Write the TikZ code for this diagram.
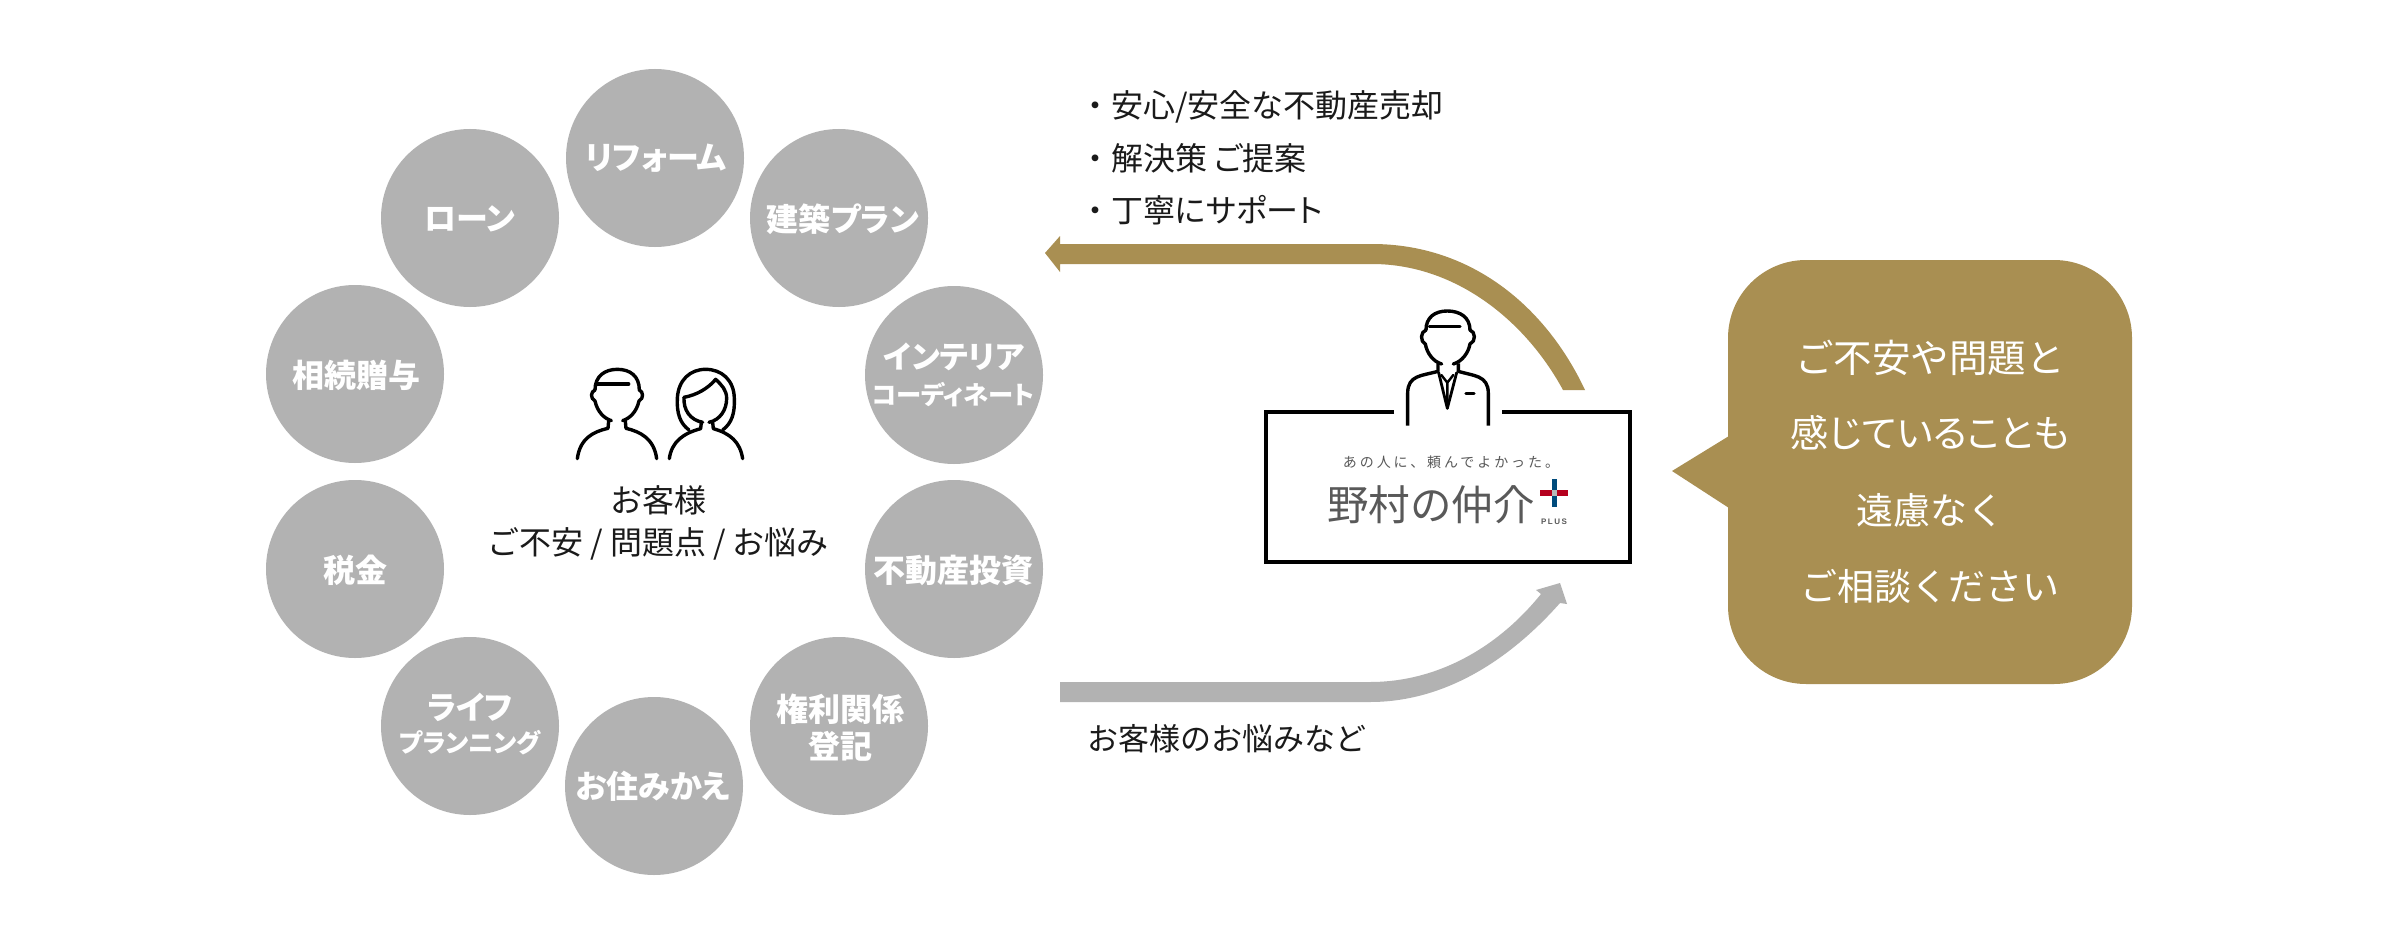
\documentclass[tikz,border=0pt]{standalone}
\usepackage{fontspec}
\setmainfont{Noto Sans CJK JP}[RawFeature=+palt]
\newfontfamily\plainjp{Noto Sans CJK JP}
\newfontfamily\logojp{Noto Sans CJK JP}[LetterSpace=21]
\newfontfamily\logolat{Liberation Sans}[LetterSpace=18]
\definecolor{goldc}{HTML}{A98F52}
\definecolor{grayc}{HTML}{B2B2B2}
\definecolor{logoc}{HTML}{595959}
\definecolor{inkc}{HTML}{1A1A1A}
\definecolor{plusblue}{HTML}{004B7C}
\definecolor{plusred}{HTML}{B5001E}
\definecolor{plusmid}{HTML}{B8B8B8}
\tikzset{
  topic/.style={circle,fill=grayc,minimum size=178pt,inner sep=0pt},
  ttxt/.style={inner sep=0pt,text=white,font=\fontsize{32}{32}\selectfont\bfseries},
  tsmall/.style={inner sep=0pt,text=white,font=\fontsize{25.3}{25.3}\selectfont\bfseries},
  lbl/.style={inner sep=0pt,text=inkc,font=\fontsize{32}{32}\selectfont,anchor=west},
  clbl/.style={inner sep=0pt,text=inkc,font=\plainjp\fontsize{32}{32}\selectfont},
  wlbl/.style={inner sep=0pt,text=white,font=\plainjp\fontsize{37}{37}\selectfont},
  icon/.style={draw=black,line width=3.4pt,line cap=round,line join=round,fill=none},
}
\begin{document}
\begin{tikzpicture}[x=1pt,y=-1pt]
\useasboundingbox[fill=white] (0,0) rectangle (2400,944);
% topic circles
\node[topic] (c1) at (655,158) {};
\node[topic] (c2) at (839,218) {};
\node[topic] (c3) at (954,375) {};
\node[topic] (c4) at (954,569) {};
\node[topic] (c5) at (839,726) {};
\node[topic] (c6) at (654,786) {};
\node[topic] (c7) at (470,726) {};
\node[topic] (c8) at (355,569) {};
\node[topic] (c9) at (355,374) {};
\node[topic] (c10) at (470,218) {};
\node[ttxt] (t1) at (656,158) {リフォーム};
\node[ttxt] (t2) at (843,219) {建築プラン};
\node[ttxt,font=\fontsize{31}{31}\selectfont\bfseries] (t3a) at (954,357) {インテリア};
\node[tsmall] (t3b) at (953,395) {コーディネート};
\node[ttxt] (t4) at (953,570) {不動産投資};
\node[ttxt] (t5a) at (840,709) {権利関係};
\node[ttxt] (t5b) at (840,746) {登記};
\node[ttxt] (t6) at (653,786) {お住みかえ};
\node[ttxt] (t7a) at (470,707) {ライフ};
\node[tsmall] (t7b) at (470,743) {プランニング};
\node[ttxt] (t8) at (355,570) {税金};
\node[ttxt] (t9) at (356,375) {相続贈与};
\node[ttxt] (t10) at (470,219) {ローン};
% customers
\begin{scope}[shift={(540,340)},x=0.3333pt,y=-0.3333pt]
\draw[icon] (165,150) .. controls (165,108) and (195,88) .. (232,88) .. controls (270,88) and (298,108) .. (298,150)
  .. controls (310,155) and (312,175) .. (297,183) .. controls (290,215) and (270,235) .. (248,242);
\draw[icon] (165,150) .. controls (152,155) and (150,175) .. (165,183) .. controls (172,215) and (192,235) .. (214,242);
\draw[icon] (206,243) -- (204,265) .. controls (160,275) and (120,295) .. (112,356);
\draw[icon] (256,243) -- (258,265) .. controls (300,275) and (342,295) .. (350,356);
\draw[icon] (172,132) -- (266,132);
\draw[icon] (447,270) .. controls (420,250) and (410,220) .. (412,175) .. controls (415,120) and (450,88) .. (497,88)
  .. controls (545,88) and (582,120) .. (583,175) .. controls (585,220) and (575,250) .. (548,270);
\draw[icon] (432,172) .. controls (470,165) and (505,145) .. (527,118) .. controls (545,135) and (560,150) .. (560,175)
  .. controls (560,210) and (540,240) .. (507,247);
\draw[icon] (432,172) .. controls (430,210) and (450,240) .. (488,247);
\draw[icon] (484,247) -- (482,266) .. controls (430,280) and (395,305) .. (388,356);
\draw[icon] (518,247) -- (520,266) .. controls (570,280) and (600,305) .. (608,356);
\end{scope}
\node[clbl] (cust1) at (658,500) {お客様};
\node[clbl] (cust2) at (658,544) {ご不安 / 問題点 / お悩み};
% labels
\node[lbl] (l1) at (1079,107) {{\plainjp ・}安心/安全な不動産売却};
\node[lbl] (l2) at (1079,158) {{\plainjp ・}解決策 ご提案};
\node[lbl] (l3) at (1079,210) {{\plainjp ・}丁寧にサポート};
\node[lbl,font=\plainjp\fontsize{31}{31}\selectfont] (l4) at (1087,739) {お客様のお悩みなど};
% arrows
\coordinate (ga) at (1045,253);
\coordinate (gb) at (1585,390);
\fill[goldc] (ga) -- (1060,236) -- (1060,244) -- (1372,244) .. controls (1470,244) and (1545,305) .. (gb)
  -- (1563,390) .. controls (1525,320) and (1455,264) .. (1372,264) -- (1060,264) -- (1060,272) -- cycle;
\coordinate (ya) at (1060,682);
\coordinate (yb) at (1560,583);
\fill[grayc] (ya) -- (1370,682) .. controls (1440,682) and (1500,645) .. (1541,594) -- (1536,590) -- (yb) -- (1567,604) -- (1560,603)
  .. controls (1505,665) and (1440,702) .. (1370,702) -- (1060,702) -- cycle;
% logo box
\coordinate (bl) at (1266,412);
\coordinate (br) at (1630,412);
\draw[line width=4pt,line join=miter] (1394,412) -- (bl) -- (1266,562) -- (1630,562) -- (br) -- (1502,412);
\begin{scope}[shift={(1240,280)},x=0.3333pt,y=-0.3333pt]
\draw[icon] (558,150) .. controls (558,112) and (585,93) .. (622,93) .. controls (660,93) and (690,112) .. (690,150)
  .. controls (707,155) and (708,185) .. (690,192) .. controls (685,220) and (665,245) .. (640,252);
\draw[icon] (558,150) .. controls (541,155) and (540,185) .. (556,192) .. controls (561,220) and (580,245) .. (605,252);
\draw[icon] (568,140) -- (660,140);
\draw[icon,line cap=butt] (594,250) -- (594,274) .. controls (545,288) and (503,285) .. (503,340) -- (503,437);
\draw[icon,line cap=butt] (655,250) -- (655,274) .. controls (700,288) and (745,285) .. (745,340) -- (745,437);
\draw[icon,line width=2.8pt] (596,278) -- (622,385) -- (650,278);
\draw[icon,line width=2.4pt] (604,285) -- (622,308) -- (640,285) (622,308) -- (622,385);
\draw[icon] (678,340) -- (702,340);
\end{scope}
\node[inner sep=0pt,text=logoc,font=\logojp\fontsize{14}{14}\selectfont] (tag) at (1451,462) {あの人に、頼んでよかった。};
\node[inner sep=0pt,text=logoc,font=\plainjp\fontsize{41.5}{41.5}\selectfont,anchor=west] (logo) at (1327,505) {野村の仲介};
\fill[plusblue] (1551.5,479) rectangle (1557,507);
\fill[plusred] (1540,490) rectangle (1568,496);
\fill[plusmid] (1551.5,490) rectangle (1557,496);
\node[inner sep=0pt,text=logoc,font=\logolat\fontsize{8}{8}\selectfont\bfseries] (plus) at (1554,522) {PLUS};
% callout
\fill[goldc,rounded corners=78pt] (1728,260) rectangle (2132,684);
\fill[goldc] (1672,471) -- (1729,436) -- (1729,508) -- cycle;
\node[wlbl,font=\plainjp\fontsize{38.5}{38.5}\selectfont] (w1) at (1930,358) {ご不安や問題と};
\node[wlbl,font=\fontsize{38}{38}\selectfont] (w2) at (1930,433) {感じていることも};
\node[wlbl] (w3) at (1930,510) {遠慮なく};
\node[wlbl] (w4) at (1930,586) {ご相談ください};
\end{tikzpicture}
\end{document}
